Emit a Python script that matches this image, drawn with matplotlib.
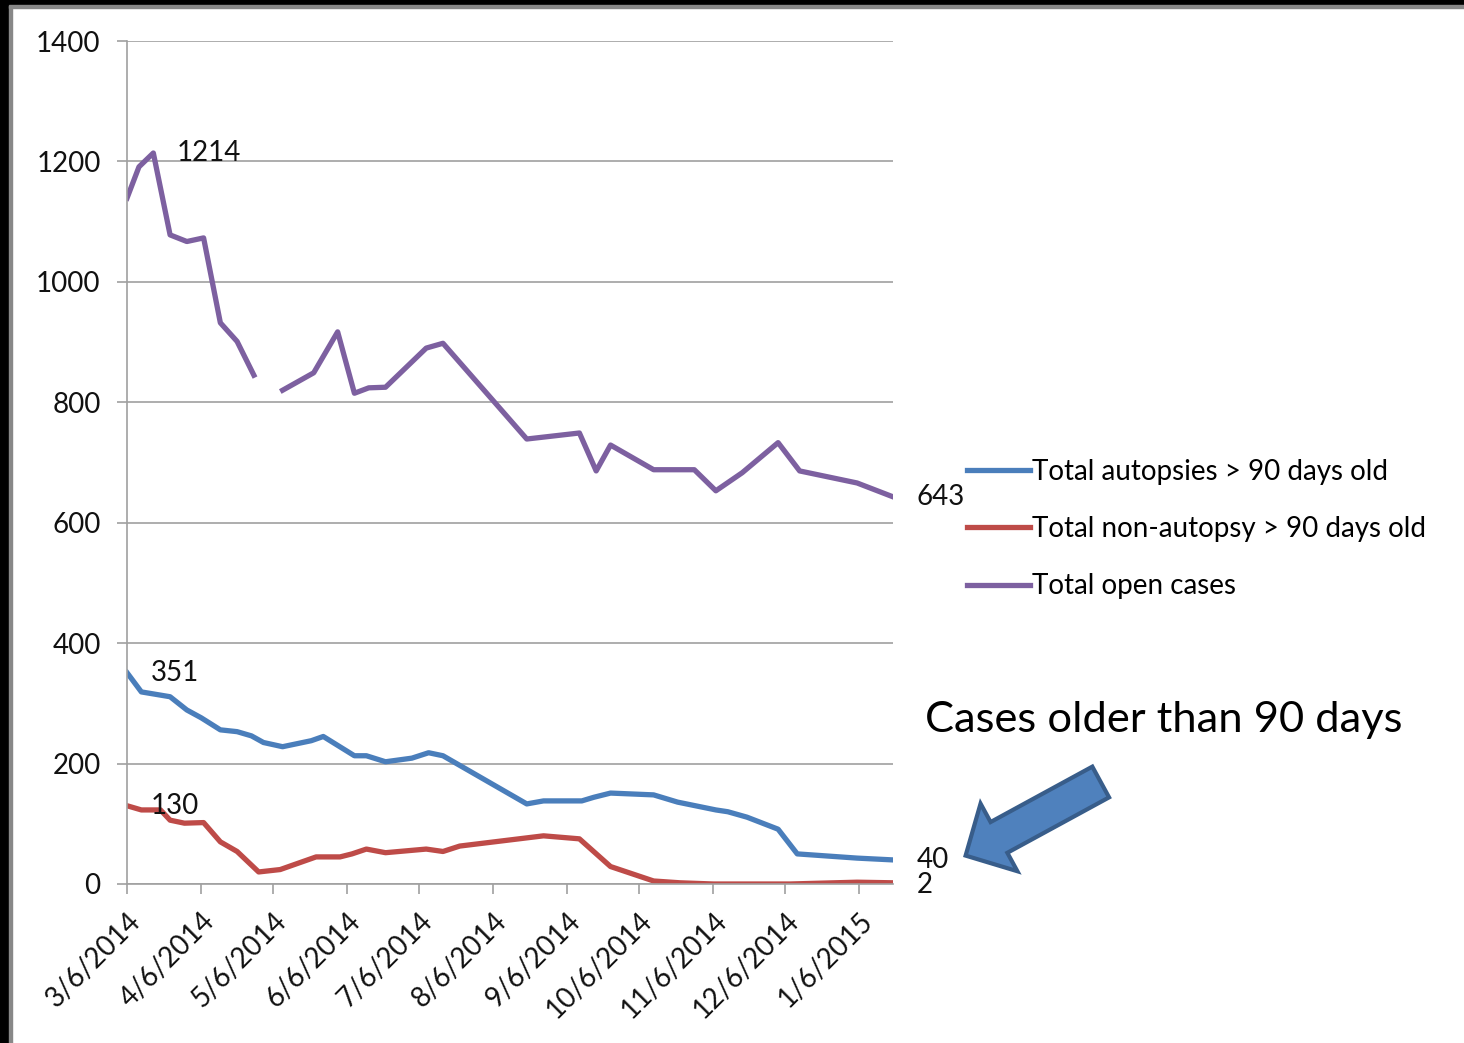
import numpy as np
import pandas as pd
import matplotlib
matplotlib.use("Agg")
import matplotlib.pyplot as plt
from matplotlib.patches import FancyArrow, Rectangle

plt.rcParams["font.family"] = ["Lato", "DejaVu Sans"]

# =====================================
# Data
# =====================================
open_dates = ["2014-03-06", "2014-03-11", "2014-03-17", "2014-03-24", "2014-03-31",
              "2014-04-07", "2014-04-14", "2014-04-21", "2014-04-28", "2014-05-04",
              "2014-05-10", "2014-05-23", "2014-06-02", "2014-06-09", "2014-06-15",
              "2014-06-22", "2014-07-09", "2014-07-16", "2014-08-20", "2014-09-11",
              "2014-09-18", "2014-09-24", "2014-10-12", "2014-10-29", "2014-11-07",
              "2014-11-18", "2014-12-03", "2014-12-12", "2015-01-05", "2015-01-20"]
open_cases = [1139, 1191, 1214, 1078, 1067,
              1073, 932, 901, 845, np.nan,
              820, 849, 917, 815, 824,
              825, 890, 898, 739, 749,
              686, 729, 688, 688, 653,
              683, 733, 686, 666, 643]

autopsy_dates = ["2014-03-06", "2014-03-12", "2014-03-24", "2014-03-31", "2014-04-06",
                 "2014-04-14", "2014-04-21", "2014-04-27", "2014-05-02", "2014-05-10",
                 "2014-05-22", "2014-05-27", "2014-06-09", "2014-06-14", "2014-06-22",
                 "2014-07-03", "2014-07-10", "2014-07-16", "2014-08-20", "2014-08-27",
                 "2014-09-12", "2014-09-17", "2014-09-24", "2014-10-12", "2014-10-22",
                 "2014-11-07", "2014-11-12", "2014-11-20", "2014-12-03", "2014-12-11",
                 "2015-01-05", "2015-01-20"]
autopsies = [351, 319, 311, 289, 276,
             256, 253, 246, 235, 228,
             238, 245, 213, 213, 203,
             209, 218, 213, 133, 138,
             138, 144, 151, 148, 136,
             123, 120, 111, 91, 50,
             43, 40]

non_autopsy_dates = ["2014-03-06", "2014-03-12", "2014-03-20", "2014-03-24", "2014-03-30",
                     "2014-04-07", "2014-04-14", "2014-04-21", "2014-04-30", "2014-05-09",
                     "2014-05-24", "2014-06-03", "2014-06-08", "2014-06-14", "2014-06-22",
                     "2014-07-09", "2014-07-16", "2014-07-23", "2014-08-27", "2014-09-11",
                     "2014-09-24", "2014-10-12", "2014-10-23", "2014-11-06", "2014-12-08",
                     "2015-01-05", "2015-01-20"]
non_autopsy = [130, 123, 123, 106, 101,
               102, 70, 54, 20, 24,
               45, 45, 50, 58, 52,
               58, 54, 63, 80, 75,
               29, 5, 2, 0, 0,
               3, 2]

tick_dates = ["2014-03-06", "2014-04-06", "2014-05-06", "2014-06-06", "2014-07-06",
              "2014-08-06", "2014-09-06", "2014-10-06", "2014-11-06", "2014-12-06",
              "2015-01-06"]
tick_labels = ["3/6/2014", "4/6/2014", "5/6/2014", "6/6/2014", "7/6/2014",
               "8/6/2014", "9/6/2014", "10/6/2014", "11/6/2014", "12/6/2014",
               "1/6/2015"]

BLUE = "#4a7ebb"
RED = "#be4b48"
PURPLE = "#7d60a0"
GRID = "#a0a0a0"

# =====================================
# Figure
# =====================================
fig = plt.figure(figsize=(14.64, 10.43), dpi=100)
ax = fig.add_axes([127 / 1464, 159 / 1043, 766 / 1464, 843 / 1043])

x_auto = pd.to_datetime(autopsy_dates)
x_non = pd.to_datetime(non_autopsy_dates)
x_open = pd.to_datetime(open_dates)

ax.plot(x_auto, autopsies, color=BLUE, lw=3.8, label="Total autopsies > 90 days old",
        solid_joinstyle="round")
ax.plot(x_non, non_autopsy, color=RED, lw=3.8, label="Total non-autopsy > 90 days old",
        solid_joinstyle="round")
ax.plot(x_open, open_cases, color=PURPLE, lw=3.8, label="Total open cases",
        solid_joinstyle="round")

ax.set_xlim(x_open[0], x_open[-1])
ax.set_ylim(0, 1400)
ax.set_yticks(range(0, 1401, 200))
ax.set_xticks(pd.to_datetime(tick_dates))
ax.set_xticklabels(tick_labels, rotation=45, ha="right", va="top",
                   rotation_mode="anchor")

ax.grid(axis="y", color=GRID, lw=1.2)
ax.set_axisbelow(True)
for side in ["top", "right"]:
    ax.spines[side].set_visible(False)
for side in ["left", "bottom"]:
    ax.spines[side].set_color(GRID)
    ax.spines[side].set_linewidth(1.2)
ax.tick_params(axis="both", color=GRID, width=1.2, length=7, labelsize=20,
               labelcolor="#111111")
ax.tick_params(axis="y", pad=12)
ax.tick_params(axis="x", pad=10)

# data labels
def label_point(x, y, text):
    ax.annotate(text, xy=(x, y), xytext=(17, 0), textcoords="offset points",
                ha="left", va="center", fontsize=20, color="#111111",
                annotation_clip=False)

label_point(x_open[2], open_cases[2], "1214")
label_point(x_open[-1], open_cases[-1], "643")
label_point(x_auto[0], autopsies[0], "351")
label_point(x_auto[-1], autopsies[-1], "40")
label_point(x_non[0], non_autopsy[0], "130")
label_point(x_non[-1], non_autopsy[-1] - 3, "2")

fig.legend(loc="upper left", bbox_to_anchor=(967 / 1464, (1043 - 459) / 1043),
           frameon=False, fontsize=20, handlelength=2.25, handletextpad=0.1,
           labelspacing=1.12, borderpad=0, borderaxespad=0)

fig.text(925 / 1464, (1043 - 720) / 1043, "Cases older than 90 days",
         fontsize=31.3, va="center", ha="left", color="black")

# block arrow pointing at the lower series
arrow = FancyArrow(11.007, 2.61, -1.351, -0.736, width=0.35, head_width=0.77,
                   head_length=0.38, length_includes_head=True,
                   transform=fig.dpi_scale_trans, facecolor="#4f81bd",
                   edgecolor="#385d8a", linewidth=3)
fig.add_artist(arrow)

# dark slide frame on the left and top edges
fig.add_artist(Rectangle((0, 0), 9 / 1464, 1, transform=fig.transFigure,
                         color="black", zorder=10))
fig.add_artist(Rectangle((9 / 1464, 0), 3 / 1464, 1, transform=fig.transFigure,
                         color="#888888", zorder=10))
fig.add_artist(Rectangle((0, 1 - 5 / 1043), 1, 5 / 1043, transform=fig.transFigure,
                         color="black", zorder=10))
fig.add_artist(Rectangle((9 / 1464, 1 - 8 / 1043), 1, 3 / 1043, transform=fig.transFigure,
                         color="#888888", zorder=10))

fig.savefig("out.png", dpi=100)
